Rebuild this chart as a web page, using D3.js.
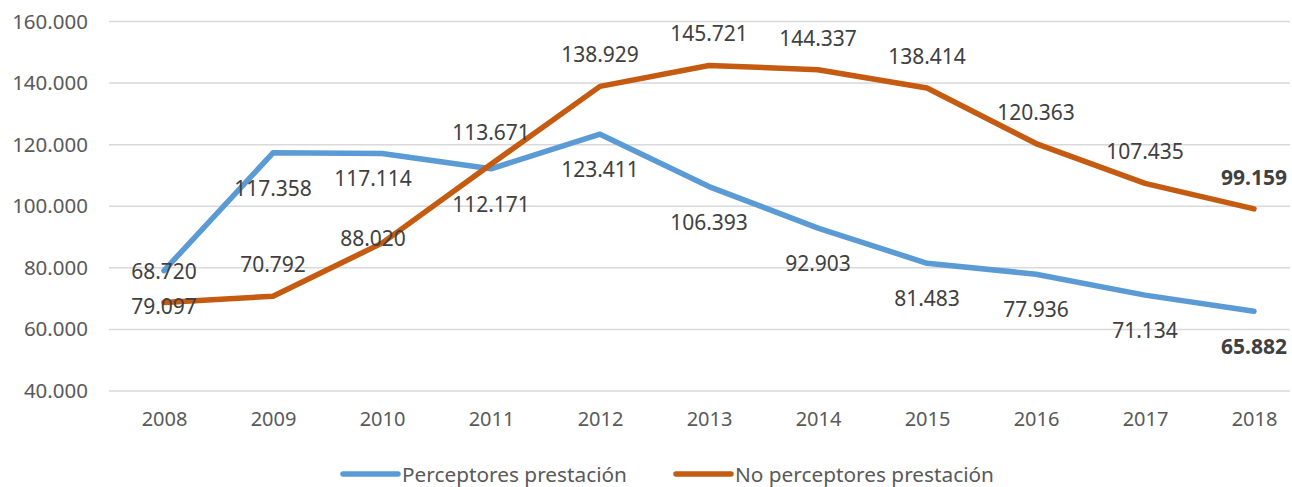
<!DOCTYPE html>
<html>
<head>
<meta charset="utf-8">
<script src="https://cdnjs.cloudflare.com/ajax/libs/d3/7.8.5/d3.min.js"></script>
<style>
  body { margin: 0; background: #fff; }
  svg text { font-family: "Noto Sans", "Open Sans", sans-serif; }
</style>
</head>
<body>
<div id="chart"></div>
<script>
// chart size
var width = 1292;
var height = 487;

// data
var years = ["2008", "2009", "2010", "2011", "2012", "2013", "2014", "2015", "2016", "2017", "2018"];
var perceptores = [79.097, 117.358, 117.114, 112.171, 123.411, 106.393, 92.903, 81.483, 77.936, 71.134, 65.882];
var noPerceptores = [68.720, 70.792, 88.020, 113.671, 138.929, 145.721, 144.337, 138.414, 120.363, 107.435, 99.159];
var yTicks = [40, 60, 80, 100, 120, 140, 160];
var seriesNames = ["Perceptores prestación", "No perceptores prestación"];

var blue = "#5B9BD5";
var orange = "#C55A11";

var svg = d3.select("#chart")
  .append("svg")
  .attr("width", width)
  .attr("height", height);

var x = d3.scalePoint()
  .domain(years)
  .range([164, 1254]);

var y = d3.scaleLinear()
  .domain([40, 160])
  .range([391, 21.5]);

// gridlines
svg.append("g")
  .selectAll("line")
  .data(yTicks)
  .enter()
  .append("line")
  .attr("x1", 109)
  .attr("x2", 1290)
  .attr("y1", function(d) { return y(d); })
  .attr("y2", function(d) { return y(d); })
  .style("stroke", "#D9D9D9")
  .style("stroke-width", 1.5);

// y axis labels
var yAxis = svg.append("g")
  .attr("transform", "translate(88,0)")
  .call(d3.axisLeft(y).tickValues(yTicks).tickSize(0).tickPadding(0)
    .tickFormat(function(d) { return d3.format(".3f")(d); }));
yAxis.select(".domain").remove();
yAxis.selectAll("text")
  .style("font-size", "20.5px")
  .style("fill", "#595959")
  .style("font-family", "'Noto Sans', sans-serif");

// x axis labels
var xAxis = svg.append("g")
  .attr("transform", "translate(0,391)")
  .call(d3.axisBottom(x).tickSize(0).tickPadding(21));
xAxis.select(".domain").remove();
xAxis.selectAll("text")
  .style("font-size", "20px")
  .style("fill", "#595959")
  .style("font-family", "'Noto Sans', sans-serif");

var line = d3.line()
  .x(function(d, i) { return x(years[i]); })
  .y(function(d) { return y(d); });

svg.append("path")
  .datum(perceptores)
  .attr("d", line)
  .style("fill", "none")
  .style("stroke", blue)
  .style("stroke-width", 5.5)
  .style("stroke-linejoin", "round")
  .style("stroke-linecap", "round");

svg.append("path")
  .datum(noPerceptores)
  .attr("d", line)
  .style("fill", "none")
  .style("stroke", orange)
  .style("stroke-width", 5.5)
  .style("stroke-linejoin", "round")
  .style("stroke-linecap", "round");

// data labels: orange above, blue below; 2010 was nudged by hand in the original
function addLabels(values, dy, nudge) {
  svg.append("g")
    .selectAll("text")
    .data(values)
    .enter()
    .append("text")
    .attr("x", function(d, i) { return x(years[i]) + (nudge[years[i]] ? nudge[years[i]][0] : 0); })
    .attr("y", function(d, i) { return y(d) + dy + (nudge[years[i]] ? nudge[years[i]][1] : 0); })
    .attr("text-anchor", "middle")
    .attr("dominant-baseline", "central")
    .style("font-size", "21px")
    .style("fill", "#404040")
    .style("font-weight", function(d, i) { return i === values.length - 1 ? "bold" : "normal"; })
    .text(function(d) { return d3.format(".3f")(d); });
}
addLabels(noPerceptores, -32, { "2010": [-9, 27] });
addLabels(perceptores, 35, { "2010": [-9, -11] });

// legend
var legend = svg.append("g").attr("transform", "translate(0,474)");
var items = [
  { name: seriesNames[0], color: blue, x0: 343 },
  { name: seriesNames[1], color: orange, x0: 676 }
];
items.forEach(function(it) {
  legend.append("line")
    .attr("x1", it.x0)
    .attr("x2", it.x0 + 55)
    .attr("y1", 0)
    .attr("y2", 0)
    .style("stroke", it.color)
    .style("stroke-width", 5.5)
    .style("stroke-linecap", "round");
  legend.append("text")
    .attr("x", it.x0 + 59)
    .attr("y", 0)
    .attr("dominant-baseline", "central")
    .style("font-size", "20.8px")
    .style("fill", "#595959")
    .text(it.name);
});
</script>
</body>
</html>
